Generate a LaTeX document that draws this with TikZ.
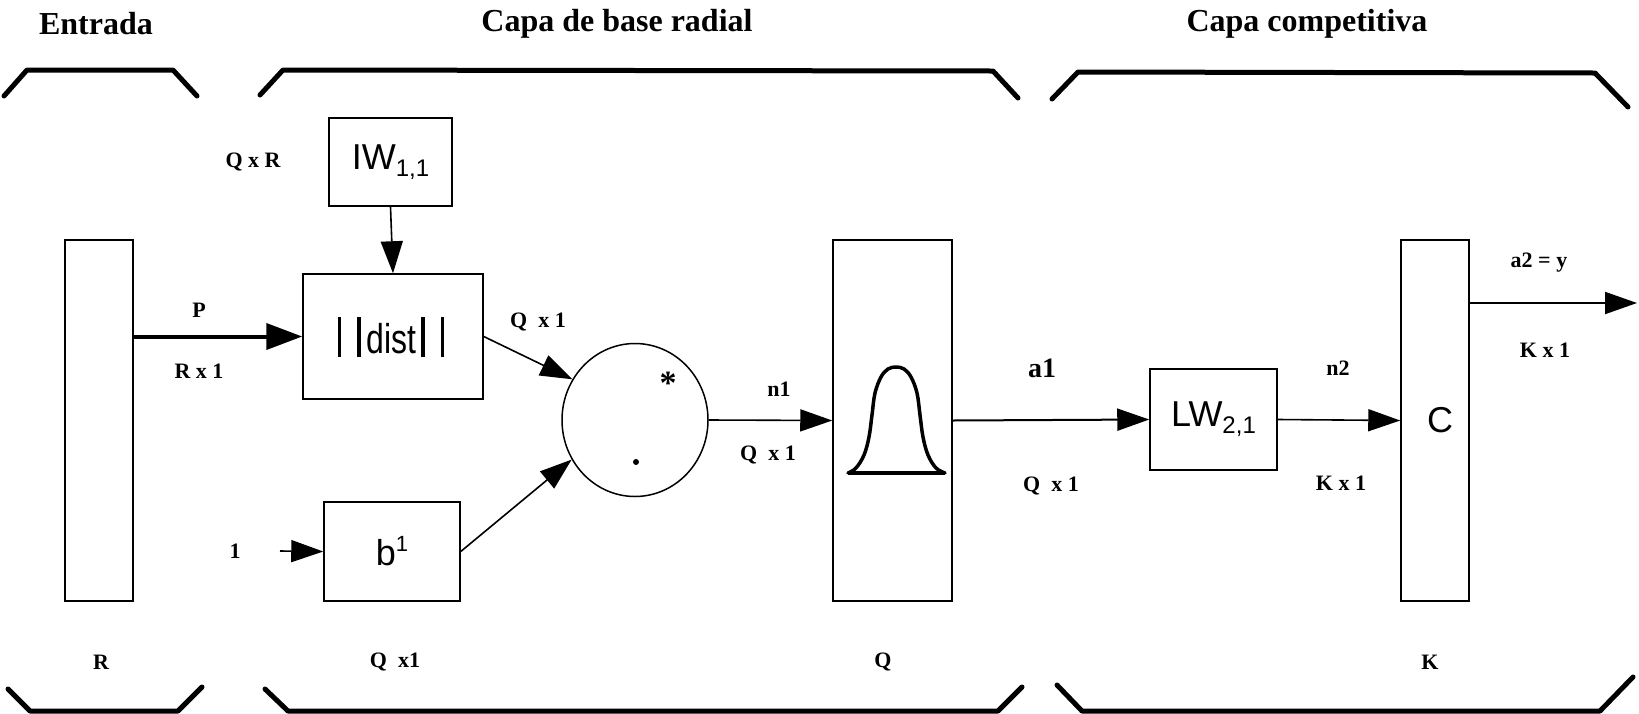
\documentclass[tikz,border=0pt]{standalone}
\usepackage{fontspec}
\setmainfont{Liberation Serif}
\newfontfamily\arialf{Liberation Sans}
\usetikzlibrary{arrows.meta,shapes.geometric}
\tikzset{
  boxn/.style={draw,line width=1.5pt,inner sep=0pt},
  lbl/.style={font=\bfseries\fontsize{22}{26}\selectfont,inner sep=0pt},
  ttl/.style={font=\bfseries\fontsize{32}{38}\selectfont,inner sep=0pt},
  sans/.style={font=\arialf\fontsize{36}{40}\selectfont},
  brk/.style={line width=5pt,line cap=round,line join=round},
  conn/.style={line width=1.6pt,-{Triangle[length=32pt,width=22pt]}},
}
\newcommand{\lowidx}[1]{\raisebox{-7pt}{\fontsize{24}{26}\selectfont #1}}
\newcommand{\highidx}[1]{\raisebox{14pt}{\fontsize{22}{24}\selectfont #1}}
\newcommand{\tallbar}{\rule[-4pt]{3.5pt}{40pt}}
\begin{document}
\begin{tikzpicture}[x=1pt,y=-1pt]
\useasboundingbox (0,0) rectangle (1639,713);
% titles
\node[ttl] (t1) at (96,24) {Entrada};
\node[ttl] (t2) at (617,24) {Capa de base radial};
\node[ttl] (t3) at (1307,24) {Capa competitiva};
% top brackets
\draw[brk] (4,96) -- (27,70) -- (173,70) -- (197,96);
\draw[brk] (260,95) -- (283,70) -- (993,71) -- (1018,98);
\draw[brk] (1052,99) -- (1078,72) -- (1595,73) -- (1628,107);
% bottom brackets
\draw[brk] (8,689) -- (30,711) -- (178,711) -- (202,687);
\draw[brk] (265,689) -- (288,711) -- (998,711) -- (1022,687);
\draw[brk] (1057,685) -- (1082,711) -- (1600,711) -- (1633,677);
% boxes
\node[boxn,minimum width=68pt,minimum height=361pt] (inp) at (99,420.5) {};
\node[boxn,minimum width=123pt,minimum height=88pt,sans] (iw) at (390.5,162) {IW\lowidx{1,1}};
\node[boxn,minimum width=180pt,minimum height=125pt] (dist) at (393,336.5) {};
\node[inner sep=0pt,font=\arialf\fontsize{32}{36}\selectfont] (disttxt) at (391,337) {\tallbar\hspace{16pt}\tallbar\hspace{6pt}\scalebox{1}[1.3]{dist}\hspace{5pt}\tallbar\hspace{16pt}\tallbar};
\node[boxn,minimum width=136pt,minimum height=99pt,sans] (b) at (392,551.5) {b\highidx{1}};
\node[draw,ellipse,line width=1.5pt,minimum width=146pt,minimum height=153pt,inner sep=0pt] (sum) at (635,420) {};
\node[font=\bfseries\fontsize{34}{36}\selectfont,inner sep=0pt] (star) at (668,383) {*};
\node[circle,fill,minimum size=6pt,inner sep=0pt] (dot) at (636,462) {};
\node[boxn,minimum width=119pt,minimum height=361pt] (q) at (892.5,420.5) {};
\node[boxn,minimum width=127pt,minimum height=101pt,sans] (lw) at (1213.5,419.5) {LW\lowidx{2,1}};
\node[boxn,minimum width=68pt,minimum height=361pt] (c) at (1435,420.5) {};
\node[sans,inner sep=0pt] (ctxt) at (1440,420) {C};
% gaussian
\draw[line width=3.5pt,line join=round,line cap=round] plot[smooth,tension=0.6] coordinates {(848,473) (856,468) (864,455) (869,437) (872,415) (875,393) (881,377) (888,369) (896,367) (904,369) (911,377) (917,393) (920,415) (923,437) (928,455) (936,468) (945,473)};
\draw[line width=4.5pt] (848,473) -- (945,473);
% coordinates
\coordinate (one) at (280,551);
\coordinate (out) at (1637,303);
% connectors
\draw[line width=4pt,-{Triangle[length=36pt,width=26pt]}] (inp.east |- dist.west) -- (dist.west);
\draw[conn] (iw.south) -- (dist.north);
\draw[conn] (dist.east) -- (sum.147);
\draw[conn] (b.east) -- (sum.212);
\draw[conn] (one) -- (b.west);
\draw[conn] (sum.east) -- (q.west);
\draw[conn,line width=2pt] (q.east) -- (lw.west);
\draw[conn] (lw.east) -- (c.west);
\draw[conn,line width=2pt] (c.east |- out) -- (out);
% labels
\node[lbl] (lqr) at (253,162) {Q x R};
\node[lbl] (lp) at (199,310) {P};
\node[lbl] (lrx1) at (199,371) {R x 1};
\node[lbl] (lqx1a) at (538,322) {Q~ x 1};
\node[lbl] (lone) at (235,551) {1};
\node[lbl] (ln1) at (779,389) {n1};
\node[lbl] (lqx1b) at (768,455) {Q~ x 1};
\node[lbl,font=\bfseries\fontsize{28}{32}\selectfont] (la1) at (1042,368) {a1};
\node[lbl] (lqx1c) at (1051,486) {Q~ x 1};
\node[lbl] (ln2) at (1338,368) {n2};
\node[lbl] (lkx1a) at (1341,483) {K x 1};
\node[lbl] (la2) at (1539,263) {a2 = y};
\node[lbl] (lkx1b) at (1545,350) {K x 1};
\node[lbl] (lr) at (101,662) {R};
\node[lbl] (lqx1d) at (395,662) {Q~ x1};
\node[lbl] (lq) at (883,662) {Q};
\node[lbl] (lk) at (1430,662) {K};
\end{tikzpicture}
\end{document}
